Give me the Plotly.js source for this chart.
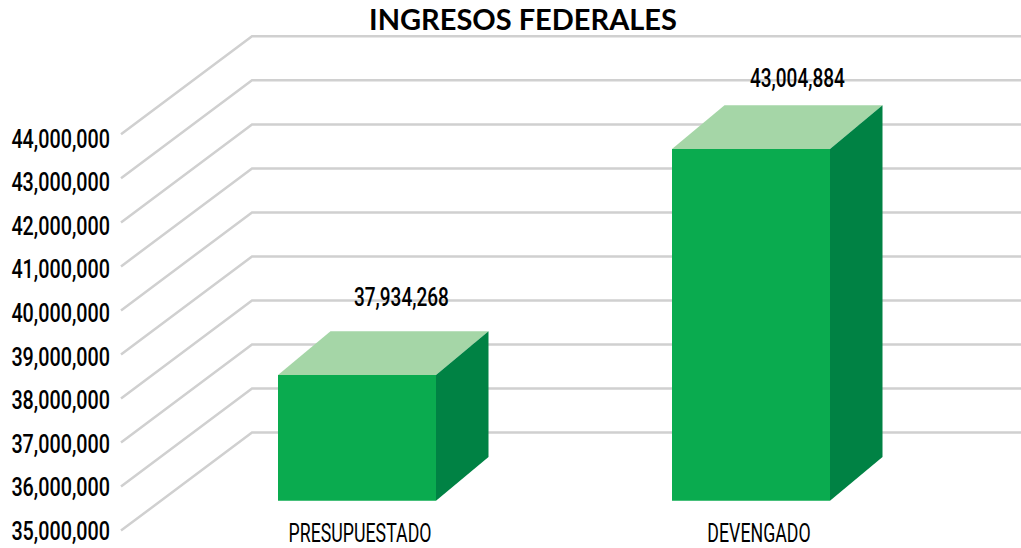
<!DOCTYPE html>
<html>
<head>
<meta charset="utf-8">
<script src="https://cdn.plot.ly/plotly-3.0.1.min.js"></script>
<style>html,body{margin:0;padding:0;background:#fff}#chart{width:1021px;height:548px}</style>
</head>
<body>
<div id="chart"></div>
<script>
const categories = ["PRESUPUESTADO", "DEVENGADO"];
const values = [37934268, 43004884];
const tickValues = [35000000, 36000000, 37000000, 38000000, 39000000, 40000000, 41000000, 42000000, 43000000, 44000000];
const tickLabels = ["35,000,000", "36,000,000", "37,000,000", "38,000,000", "39,000,000", "40,000,000", "41,000,000", "42,000,000", "43,000,000", "44,000,000"];

const W = 1021, H = 548;
const FONT = 'Roboto, sans-serif';
const GREEN = '#0AAB4F', DARK = '#008244', LIGHT = '#A5D6A7', GRID = '#D0D0D0';

// Axis calibrations (pixel anchors of the drawing)
const xUnit = 394, xZero = 357;                 // bar category axis
const barBase = 35114000, barScale = 44.57 / 1e6, barBasePx = 500.7;
const wallScale = 44.03 / 1e6, wallBasePx = 530.6;
const labelScale = 43.56 / 1e6, labelBasePx = 531;
const barW = 158 / xUnit, depthX = 52.5 / xUnit, depthY = 43.7 / barScale;
const wallFront = (121 - xZero) / xUnit, wallBack = (252 - xZero) / xUnit, wallEnd = (W - xZero) / xUnit;
const wallDepth = 98 / wallScale;

const rangeFor = (ref, refPx, scale) => [ref - (H - refPx) / scale, ref + refPx / scale];

const gx = [], gy = [];
tickValues.forEach(t => {
  gx.push(wallFront, wallBack, wallEnd, null);
  gy.push(t, t + wallDepth, t + wallDepth, null);
});

const traces = [{
  type: 'scatter', mode: 'lines', x: gx, y: gy, xaxis: 'x', yaxis: 'y',
  line: {color: GRID, width: 2.5}, hoverinfo: 'skip', connectgaps: false
}, {
  type: 'bar', x: [0, 1], y: values.map(v => v - barBase), base: values.map(() => barBase),
  width: barW, xaxis: 'x', yaxis: 'y2', marker: {color: GREEN, line: {width: 0}}, hoverinfo: 'skip'
}];

values.forEach((v, i) => {
  const l = i - barW / 2, r = i + barW / 2;
  traces.push({
    type: 'scatter', mode: 'lines', fill: 'toself', fillcolor: LIGHT, line: {width: 0, color: LIGHT},
    x: [l, r, r + depthX, l + depthX, l], y: [v, v, v + depthY, v + depthY, v],
    xaxis: 'x', yaxis: 'y2', hoverinfo: 'skip'
  });
  traces.push({
    type: 'scatter', mode: 'lines', fill: 'toself', fillcolor: DARK, line: {width: 0, color: DARK},
    x: [r, r + depthX, r + depthX, r, r], y: [v, v + depthY, barBase + depthY, barBase, v],
    xaxis: 'x', yaxis: 'y2', hoverinfo: 'skip'
  });
});

// keeps the label axes alive
traces.push({type: 'scatter', mode: 'none', x: [0, 1], y: [tickValues[0], tickValues[1]], xaxis: 'x2', yaxis: 'y3', hoverinfo: 'skip'});

const labelFont = {family: FONT, size: 25, weight: 500, color: '#000'};
const catFont = {family: FONT, size: 25, weight: 400, color: '#000'};
const labelShiftX = [44, 46], labelShiftY = [34, 27];

const layout = {
  width: W, height: H, margin: {l: 0, r: 0, t: 0, b: 0}, showlegend: false,
  paper_bgcolor: '#fff', plot_bgcolor: '#fff', hovermode: false,
  title: {text: 'INGRESOS FEDERALES', x: 523 / W, xanchor: 'center', xref: 'paper', y: 1 - 20 / H, yanchor: 'middle',
          yref: 'container', font: {family: 'Lato', size: 29, weight: 700, color: '#000'}},
  xaxis: {range: [-xZero / xUnit, (W - xZero) / xUnit], visible: false, fixedrange: true},
  xaxis2: {range: [-360 / 399, (W - 360) / 399], overlaying: 'x', anchor: 'free', position: 32 / H, side: 'bottom',
           tickmode: 'array', tickvals: [0, 1], ticktext: categories, tickfont: catFont,
           showgrid: false, zeroline: false, showline: false, ticks: '', fixedrange: true},
  yaxis: {range: rangeFor(tickValues[0], wallBasePx, wallScale), visible: false, fixedrange: true},
  yaxis2: {range: rangeFor(barBase, barBasePx, barScale), overlaying: 'y', visible: false, fixedrange: true},
  yaxis3: {range: rangeFor(tickValues[0], labelBasePx, labelScale), overlaying: 'y', anchor: 'free', position: 110 / W, side: 'left',
           tickmode: 'array', tickvals: tickValues, ticktext: tickLabels, tickfont: labelFont,
           showgrid: false, zeroline: false, showline: false, ticks: '', fixedrange: true},
  annotations: values.map((v, i) => ({
    x: i, y: v + depthY, xref: 'x', yref: 'y2', text: v.toLocaleString('en-US'), showarrow: false,
    xshift: labelShiftX[i], yshift: labelShiftY[i], font: labelFont, xanchor: 'center', yanchor: 'middle'
  }))
};

// The reference uses a condensed face: narrow the real text with SVG textLength.
function squeeze(selector, factor) {
  document.querySelectorAll(selector).forEach(el => {
    const len = el.getComputedTextLength();
    el.setAttribute('lengthAdjust', 'spacingAndGlyphs');
    el.setAttribute('textLength', (len * factor).toFixed(1));
  });
}
Plotly.newPlot('chart', traces, layout, {displayModeBar: false, staticPlot: true}).then(() => {
  squeeze('#chart .x2tick text', 0.71);
  squeeze('#chart .y3tick text', 0.79);
  squeeze('#chart .annotation-text', 0.76);
});
</script>
</body>
</html>
